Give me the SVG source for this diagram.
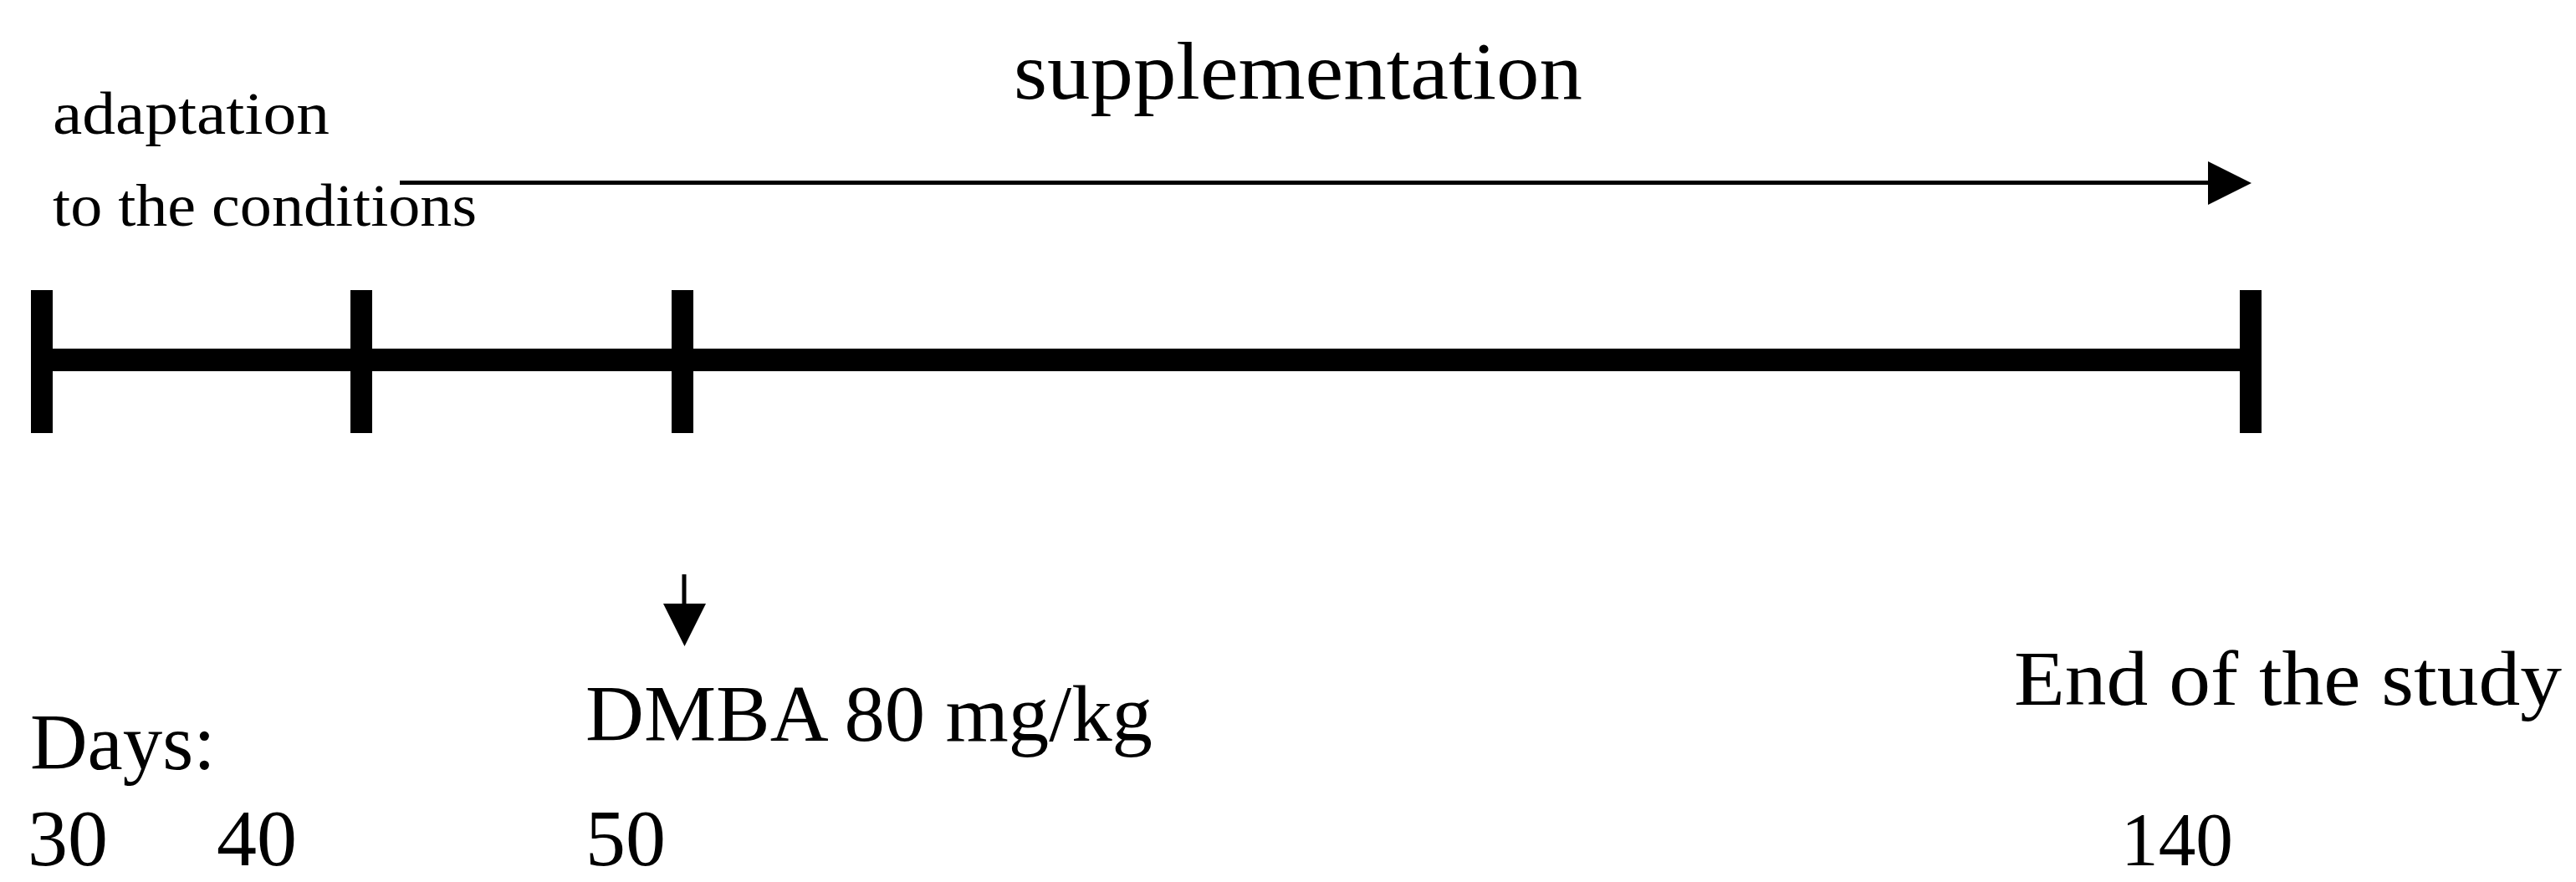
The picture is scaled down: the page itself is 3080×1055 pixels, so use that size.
<svg xmlns="http://www.w3.org/2000/svg" width="3080" height="1055" viewBox="0 0 3080 1055">
  <style>
    .t { font-family: "Liberation Serif", "Times New Roman", serif; fill: #000; }
    .tick { fill: #000; }
    .conn { stroke: #000; fill: none; }
  </style>
  <rect width="3080" height="1055" fill="#fff"/>
  <g id="timeline">
    <line x1="50" y1="430.5" x2="2691" y2="430.5" stroke="#000" stroke-width="27"/>
    <rect class="tick" x="37" y="347" width="26" height="171"/>
    <rect class="tick" x="419" y="347" width="26" height="171"/>
    <rect class="tick" x="803" y="347" width="26" height="171"/>
    <rect class="tick" x="2678" y="347" width="26" height="171"/>
  </g>
  <g id="connectors">
    <line class="conn" x1="478" y1="218.5" x2="2642" y2="218.5" stroke-width="5"/>
    <polygon points="2640,193 2692,219 2640,245" fill="#000"/>
    <line class="conn" x1="818" y1="687" x2="818" y2="724" stroke-width="5"/>
    <polygon points="793,722 844,722 818.5,773" fill="#000"/>
  </g>
  <g id="label-supplementation">
    <text class="t" x="1212" y="118" font-size="98" textLength="680" lengthAdjust="spacingAndGlyphs">supplementation</text>
  </g>
  <g id="label-adaptation">
    <text class="t" x="63" y="160" font-size="72" textLength="331" lengthAdjust="spacingAndGlyphs">adaptation</text>
    <text class="t" x="63" y="270" font-size="72" textLength="507" lengthAdjust="spacingAndGlyphs">to the conditions</text>
  </g>
  <g id="label-dmba">
    <text class="t" x="700" y="886" font-size="96" textLength="678" lengthAdjust="spacingAndGlyphs">DMBA 80 mg/kg</text>
  </g>
  <g id="label-end">
    <text class="t" x="2408" y="843" font-size="93" textLength="655" lengthAdjust="spacingAndGlyphs">End of the study</text>
  </g>
  <g id="label-days">
    <text class="t" x="36" y="920" font-size="95">Days:</text>
    <text class="t" x="33" y="1035" font-size="96">30</text>
    <text class="t" x="259" y="1035" font-size="96">40</text>
    <text class="t" x="700" y="1035" font-size="96">50</text>
    <text class="t" x="2536" y="1035" font-size="92" textLength="134" lengthAdjust="spacingAndGlyphs">140</text>
  </g>
</svg>
